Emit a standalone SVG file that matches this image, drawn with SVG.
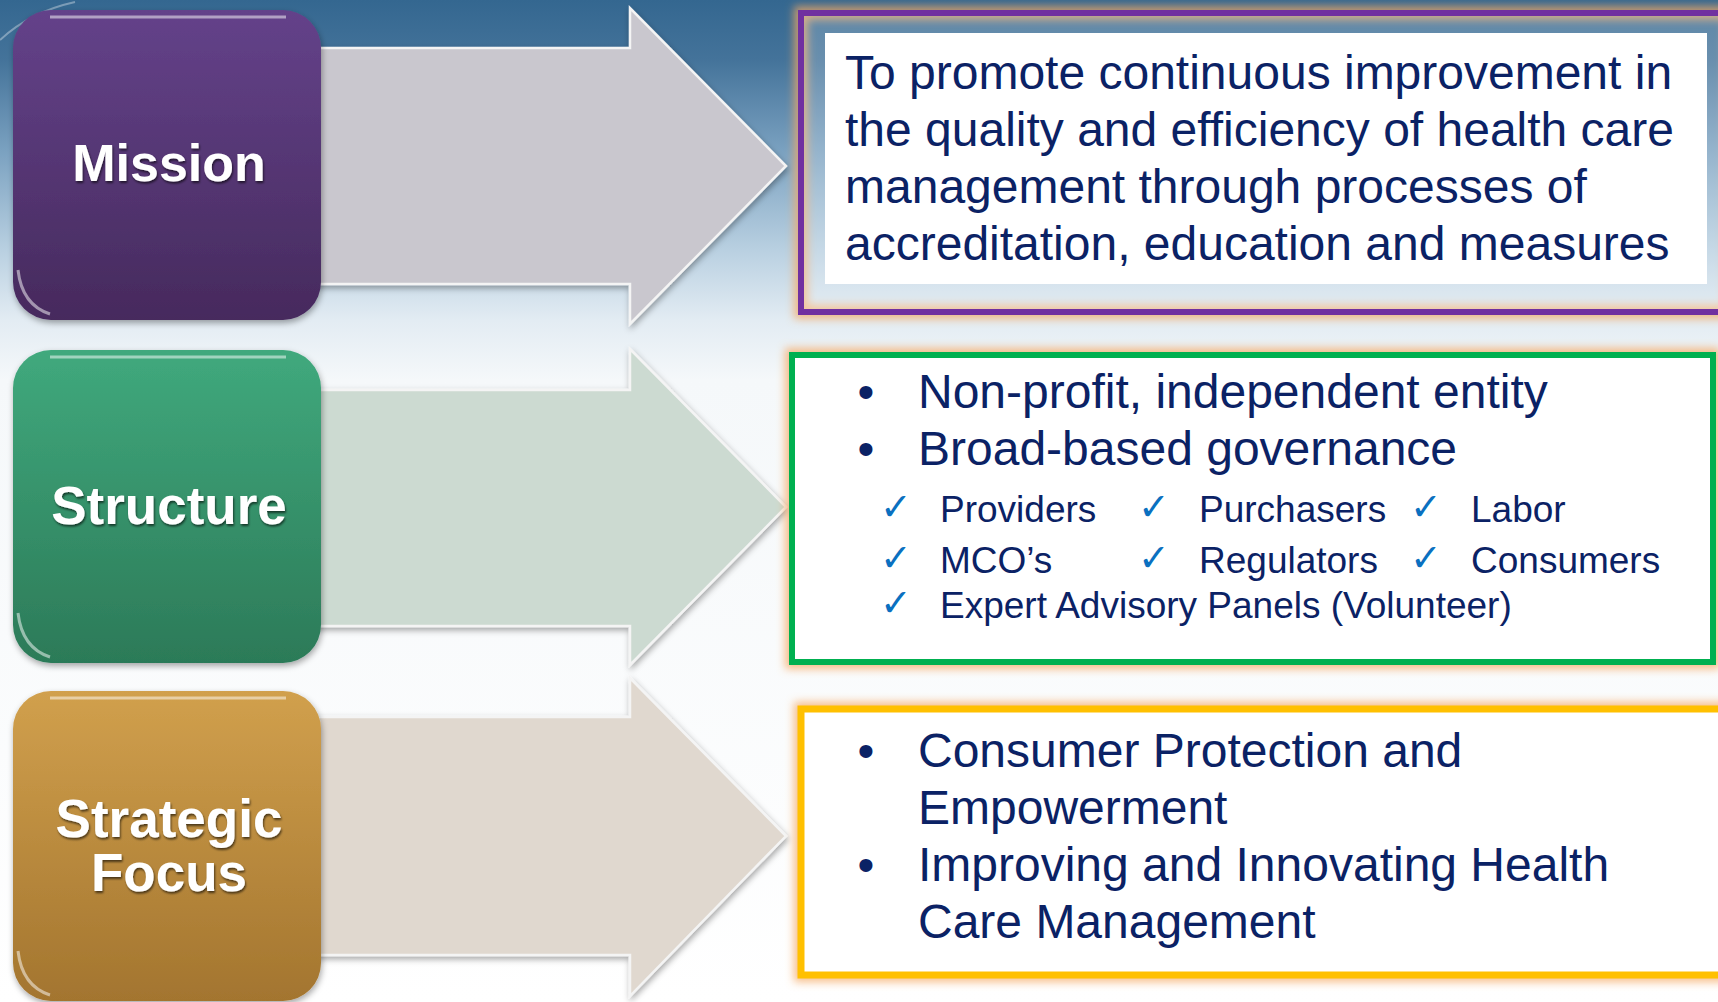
<svg xmlns="http://www.w3.org/2000/svg" width="1718" height="1002" viewBox="0 0 1718 1002">
<defs>
<linearGradient id="bg" x1="0" y1="0" x2="0" y2="1002" gradientUnits="userSpaceOnUse">
<stop offset="0" stop-color="#346790"/>
<stop offset="0.06" stop-color="#44739a"/>
<stop offset="0.15" stop-color="#7aa1c0"/>
<stop offset="0.25" stop-color="#b9d0e1"/>
<stop offset="0.32" stop-color="#e3ecf3"/>
<stop offset="0.38" stop-color="#f5f8fa"/>
<stop offset="1" stop-color="#ffffff"/>
</linearGradient>
<linearGradient id="gPurple" x1="0" y1="0" x2="0" y2="1">
<stop offset="0" stop-color="#64428a"/>
<stop offset="1" stop-color="#462a5d"/>
</linearGradient>
<linearGradient id="gGreen" x1="0" y1="0" x2="0" y2="1">
<stop offset="0" stop-color="#40a97d"/>
<stop offset="1" stop-color="#2c7a58"/>
</linearGradient>
<linearGradient id="gGold" x1="0" y1="0" x2="0" y2="1">
<stop offset="0" stop-color="#d1a04d"/>
<stop offset="1" stop-color="#a3752f"/>
</linearGradient>
<filter id="shadow" x="-10%" y="-10%" width="120%" height="120%">
<feDropShadow dx="1" dy="3" stdDeviation="3" flood-color="#000" flood-opacity="0.35"/>
</filter>
<filter id="txtShadow" x="-10%" y="-20%" width="120%" height="140%">
<feDropShadow dx="1" dy="2" stdDeviation="1.2" flood-color="#000" flood-opacity="0.6"/>
</filter>
<filter id="glow" x="-5%" y="-10%" width="110%" height="120%">
<feGaussianBlur stdDeviation="4"/>
</filter>
<style>
.lbl{font-family:"Liberation Sans",Arial,sans-serif;font-weight:bold;fill:#ffffff;text-anchor:middle;filter:url(#txtShadow)}
.txt{font-family:"Liberation Sans",Arial,sans-serif;font-size:48px;fill:#0b2265}
.sub{font-family:"Liberation Sans",Arial,sans-serif;font-size:37px;fill:#0b2265}
.chk{font-family:"DejaVu Sans",sans-serif;font-size:38px;fill:#0a70c0}
.bul{font-family:"Liberation Sans",Arial,sans-serif;font-size:48px;fill:#0b2265;text-anchor:middle}
.arrow{stroke:#f4f4f4;stroke-width:2.5;filter:url(#shadow)}
.gl{fill:none;stroke:#f5a861;stroke-opacity:0.75;stroke-width:14;filter:url(#glow)}
.hl{fill:none;stroke:#ffffff;stroke-opacity:0.5;stroke-width:3}
</style>
</defs>

<rect x="0" y="0" width="1718" height="1002" fill="url(#bg)"/>
<path d="M0,40 Q30,12 75,2" fill="none" stroke="#ffffff" stroke-opacity="0.35" stroke-width="2"/>

<g id="connectors">
<polygon class="arrow" fill="#c9c7ce" points="300,48 630,48 630,8 786,166 630,324 630,284 300,284"/>
<polygon class="arrow" fill="#ccdad1" points="300,390 630,390 630,349 786,507 630,665 630,626 300,626"/>
<polygon class="arrow" fill="#e0d8cf" points="300,717 630,717 630,678 786,836 630,996 630,955 300,955"/>
</g>

<g id="node-mission">
<rect x="13" y="10" width="308" height="310" rx="38" fill="url(#gPurple)" filter="url(#shadow)"/>
<path class="hl" d="M50,17 H286"/>
<path class="hl" d="M18,270 Q22,305 50,314"/>
<text class="lbl" x="169" y="181" font-size="52">Mission</text>
</g>

<g id="node-structure">
<rect x="13" y="350" width="308" height="313" rx="38" fill="url(#gGreen)" filter="url(#shadow)"/>
<path class="hl" d="M50,357 H286"/>
<path class="hl" d="M18,613 Q22,648 50,657"/>
<text class="lbl" x="169" y="524" font-size="53">Structure</text>
</g>

<g id="node-strategic">
<rect x="13" y="691" width="308" height="310" rx="38" fill="url(#gGold)" filter="url(#shadow)"/>
<path class="hl" d="M50,698 H286"/>
<path class="hl" d="M18,951 Q22,986 50,995"/>
<text class="lbl" x="169" y="837" font-size="53">Strategic</text>
<text class="lbl" x="169" y="891" font-size="53">Focus</text>
</g>

<g id="box-mission">
<rect class="gl" x="801" y="13" width="930" height="299"/>
<rect x="801" y="13" width="930" height="299" fill="#ffffff" fill-opacity="0.2" stroke="#7030a0" stroke-width="6"/>
<rect x="825" y="33" width="882" height="251" fill="#ffffff"/>
<text class="txt" x="845" y="89">To promote continuous improvement in</text>
<text class="txt" x="845" y="146">the quality and efficiency of health care</text>
<text class="txt" x="845" y="203">management through processes of</text>
<text class="txt" x="845" y="260">accreditation, education and measures</text>
</g>

<g id="box-structure">
<rect class="gl" x="792" y="355" width="921" height="307"/>
<rect x="792" y="355" width="921" height="307" fill="#ffffff" stroke="#00b050" stroke-width="6"/>
<text class="bul" x="866" y="408">•</text>
<text class="txt" x="918" y="408">Non-profit, independent entity</text>
<text class="bul" x="866" y="465">•</text>
<text class="txt" x="918" y="465">Broad-based governance</text>
<text class="chk" x="880" y="520">✓</text>
<text class="sub" x="940" y="522">Providers</text>
<text class="chk" x="1138" y="520">✓</text>
<text class="sub" x="1199" y="522">Purchasers</text>
<text class="chk" x="1410" y="520">✓</text>
<text class="sub" x="1471" y="522">Labor</text>
<text class="chk" x="880" y="571">✓</text>
<text class="sub" x="940" y="573">MCO’s</text>
<text class="chk" x="1138" y="571">✓</text>
<text class="sub" x="1199" y="573">Regulators</text>
<text class="chk" x="1410" y="571">✓</text>
<text class="sub" x="1471" y="573">Consumers</text>
<text class="chk" x="880" y="616">✓</text>
<text class="sub" x="940" y="618">Expert Advisory Panels (Volunteer)</text>
</g>

<g id="box-strategic">
<rect class="gl" x="801" y="709" width="930" height="266"/>
<rect x="801" y="709" width="930" height="266" fill="#ffffff" stroke="#ffc000" stroke-width="7"/>
<text class="bul" x="866" y="767">•</text>
<text class="txt" x="918" y="767">Consumer Protection and</text>
<text class="txt" x="918" y="824">Empowerment</text>
<text class="bul" x="866" y="881">•</text>
<text class="txt" x="918" y="881">Improving and Innovating Health</text>
<text class="txt" x="918" y="938">Care Management</text>
</g>
</svg>
